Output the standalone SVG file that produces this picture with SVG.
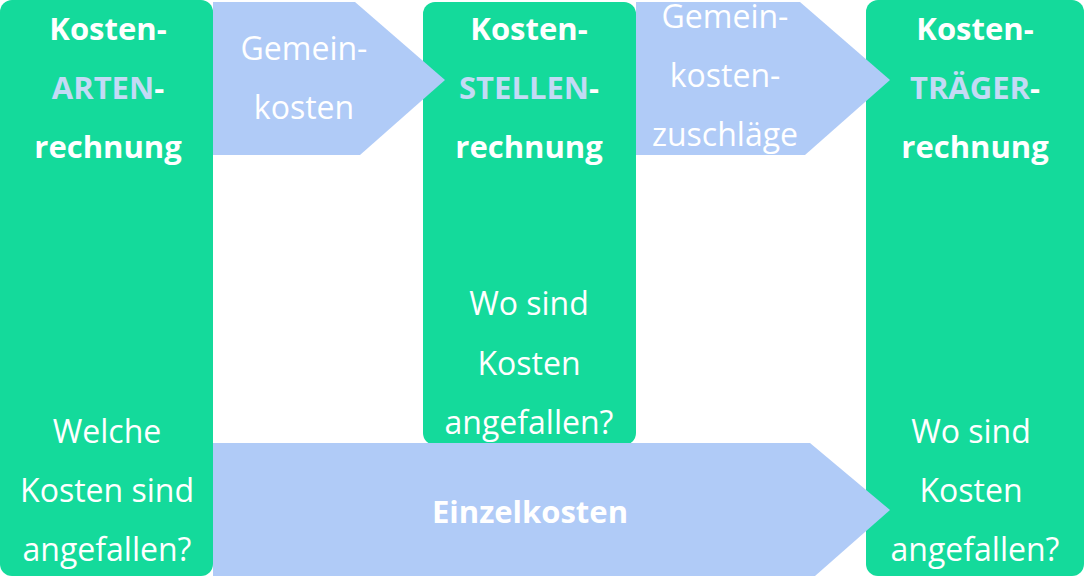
<svg xmlns="http://www.w3.org/2000/svg" width="1084" height="576" viewBox="0 0 1084 576">
<style>
.box{fill:#14da9b}
.arr{fill:#b0cbf7}
.t{font-family:"Open Sans",sans-serif;font-size:32px;fill:#fff;text-anchor:middle}
.b{font-weight:bold;font-size:31px}
.h{fill:#c3daf5}
</style>
<g id="kostenarten">
<rect class="box" x="0" y="0" width="213" height="576" rx="12"/>
<text class="t b" x="108" y="40">Kosten-</text>
<text class="t b" x="108" y="99"><tspan class="h">ARTEN</tspan>-</text>
<text class="t b" x="108" y="158">rechnung</text>
<text class="t" x="107" y="443">Welche</text>
<text class="t" x="107" y="502">Kosten sind</text>
<text class="t" x="107" y="561">angefallen?</text>
</g>
<g id="kostenstellen">
<rect class="box" x="423" y="2" width="213" height="443" rx="12"/>
<text class="t b" x="529" y="40">Kosten-</text>
<text class="t b" x="529" y="99"><tspan class="h">STELLEN</tspan>-</text>
<text class="t b" x="529" y="158">rechnung</text>
<text class="t" x="529" y="315">Wo sind</text>
<text class="t" x="529" y="375">Kosten</text>
<text class="t" x="529" y="434">angefallen?</text>
</g>
<g id="kostentraeger">
<rect class="box" x="866" y="0" width="218" height="576" rx="12"/>
<text class="t b" x="975" y="40">Kosten-</text>
<text class="t b" x="975" y="99"><tspan class="h">TRÄGER</tspan>-</text>
<text class="t b" x="975" y="158">rechnung</text>
<text class="t" x="971" y="443">Wo sind</text>
<text class="t" x="971" y="502">Kosten</text>
<text class="t" x="975" y="561">angefallen?</text>
</g>
<g id="connectors">
<polygon class="arr" points="213,2 355,2 445,80 360,155 213,155"/>
<polygon class="arr" points="636,2 800,2 890,80 805,155 636,155"/>
<polygon class="arr" points="213,443 810,443 890,510 815,576 213,576"/>
</g>
<g id="labels">
<text class="t" x="304" y="60">Gemein-</text>
<text class="t" x="304" y="119">kosten</text>
<text class="t" x="725" y="28">Gemein-</text>
<text class="t" x="725" y="87">kosten-</text>
<text class="t" x="725" y="146">zuschläge</text>
<text class="t b" x="530" y="523">Einzelkosten</text>
</g>
</svg>
